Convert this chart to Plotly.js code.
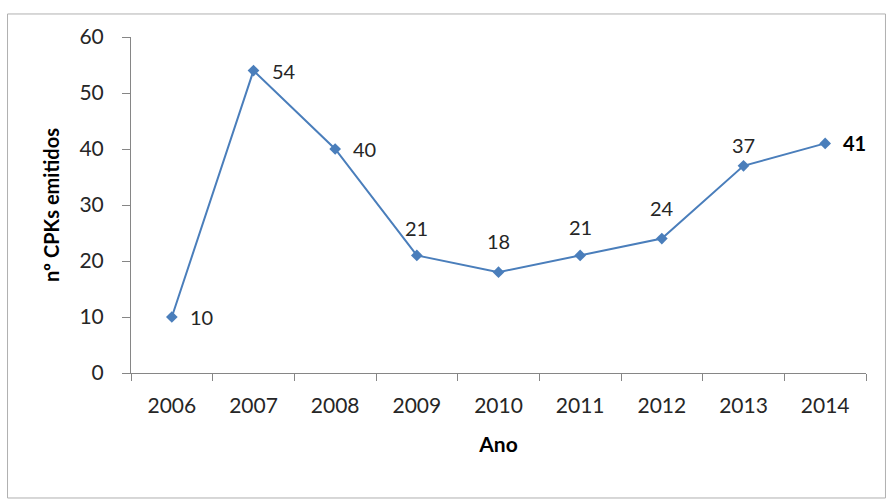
<!DOCTYPE html>
<html><head><meta charset="utf-8">
<script src="https://cdn.plot.ly/plotly-3.0.1.min.js"></script>
<style>html,body{margin:0;padding:0;background:#fff}</style>
</head><body>
<div id="chart" style="width:886px;height:500px"></div>
<script>
const years = ['2006','2007','2008','2009','2010','2011','2012','2013','2014'];
const values = [10, 54, 40, 21, 18, 21, 24, 37, 41];
// label placement (style): 'r' = right of point, 't' = above point, with pixel lift
const labelSide = ['r','r','r','t','t','t','t','t','r'];
const labelLift = [0, 0, 0, 27, 31, 28, 31, 21, 0];
const labelBold = [false,false,false,false,false,false,false,false,true];

const font = 'Lato, "Open Sans", sans-serif';
const trace = {
  x: years, y: values, type: 'scatter', mode: 'lines+markers',
  line: {color: '#4a7ebb', width: 2},
  marker: {symbol: 'diamond', size: 9, color: '#4a7ebb'},
  cliponaxis: false, hoverinfo: 'none'
};
const annotations = years.map((yr, i) => ({
  x: i, y: values[i], xref: 'x', yref: 'y', showarrow: false,
  text: labelBold[i] ? '<b>' + values[i] + '</b>' : String(values[i]),
  xanchor: labelSide[i] === 'r' ? 'left' : 'center',
  yanchor: 'middle',
  xshift: labelSide[i] === 'r' ? 16 : 0,
  yshift: labelLift[i],
  font: {family: font, size: 20, color: labelBold[i] ? '#000' : '#262626'}
}));
const layout = {
  width: 886, height: 500,
  margin: {l: 131, r: 20, t: 37, b: 127},
  paper_bgcolor: '#fff', plot_bgcolor: '#fff',
  showlegend: false,
  font: {family: font, size: 20, color: '#262626'},
  xaxis: {
    type: 'category', range: [-0.5, 8.5], tickson: 'boundaries',
    showline: true, linecolor: '#868686', linewidth: 1,
    ticks: 'outside', ticklen: 7, tickcolor: '#868686',
    ticklabelstandoff: 14,
    showgrid: false, zeroline: false,
    tickfont: {family: font, size: 21, color: '#262626'},
    title: {text: '<b>Ano</b>', font: {family: font, size: 21, color: '#000'}, standoff: 21}
  },
  yaxis: {
    range: [0, 60], tickvals: [0,10,20,30,40,50,60],
    showline: true, linecolor: '#868686', linewidth: 1,
    ticks: 'outside', ticklen: 8, tickcolor: '#868686',
    ticklabelstandoff: 14,
    showgrid: false, zeroline: false,
    tickfont: {family: font, size: 21, color: '#262626'},
    title: {text: '<b>nº CPKs emitidos</b>', font: {family: font, size: 20, color: '#000'}, standoff: 14}
  },
  annotations: annotations,
  shapes: [{
    type: 'rect', xref: 'paper', yref: 'paper',
    x0: -0.168, x1: 1.0265, y0: -0.372, y1: 1.0685,
    line: {color: '#b0b0b0', width: 1}, layer: 'below'
  }]
};
Plotly.newPlot('chart', [trace], layout, {staticPlot: true});
</script>
</body></html>
